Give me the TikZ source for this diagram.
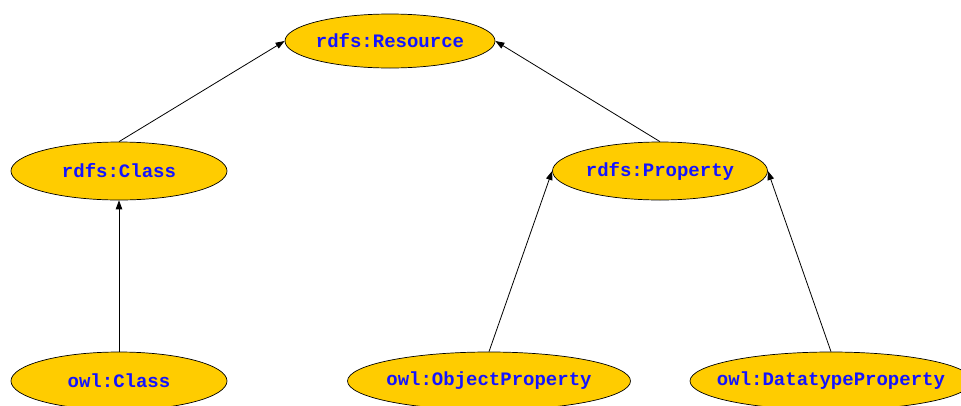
\documentclass[tikz,border=0pt]{standalone}
\usepackage{fontspec}
\setmonofont{Liberation Mono}
\usetikzlibrary{shapes.geometric,arrows.meta}
\definecolor{classfill}{RGB}{255,204,0}
\definecolor{termblue}{RGB}{20,20,255}
\tikzset{
  term/.style={ellipse, draw=black, line width=0.7pt, fill=classfill, inner sep=0pt,
    label={[font=\ttfamily\bfseries\fontsize{19}{20}\selectfont, text=termblue, inner sep=0pt]center:#1}},
  subclass/.style={-{Triangle[length=9pt,width=6.5pt]}, line width=0.8pt, black}
}
\begin{document}
\begin{tikzpicture}[x=1pt,y=-1pt]
  \useasboundingbox (0,0) rectangle (961,405);
  \node[term={rdfs:Resource}, minimum width=210pt, minimum height=54pt] (res) at (390,41) {};
  \node[term={rdfs:Class}, minimum width=216pt, minimum height=58pt] (rcls) at (119,171) {};
  \node[term={rdfs:Property}, minimum width=215pt, minimum height=58pt] (rprop) at (660,171) {};
  \node[term={owl:Class}, minimum width=216pt, minimum height=58pt] (ocls) at (119,381) {};
  \node[term={owl:ObjectProperty}, minimum width=283pt, minimum height=58pt] (oprop) at (489,381) {};
  \node[term={owl:DatatypeProperty}, minimum width=282pt, minimum height=58pt] (dprop) at (831,381) {};

  \draw[subclass] (rcls.north) -- (res.west);
  \draw[subclass] (rprop.north) -- (res.east);
  \draw[subclass] (ocls.north) -- (rcls.south);
  \draw[subclass] (oprop.north) -- (rprop.west);
  \draw[subclass] (dprop.north) -- (rprop.east);
\end{tikzpicture}
\end{document}
